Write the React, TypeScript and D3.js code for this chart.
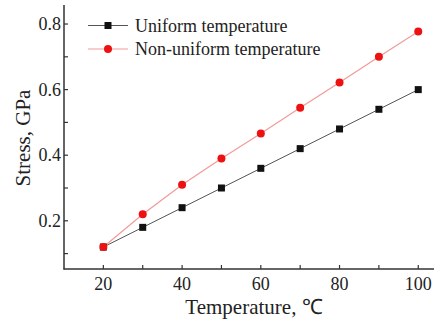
import * as d3 from "d3";

const temps = [20, 30, 40, 50, 60, 70, 80, 90, 100];
const uniform = [0.12, 0.18, 0.24, 0.3, 0.36, 0.42, 0.48, 0.54, 0.6];
const nonUniform = [0.12, 0.22, 0.31, 0.39, 0.466, 0.545, 0.622, 0.7, 0.777];
const xTicks = [20, 30, 40, 50, 60, 70, 80, 90, 100];
const xLabels = [20, 40, 60, 80, 100];
const yTicks = [0.1, 0.2, 0.3, 0.4, 0.5, 0.6, 0.7, 0.8];
const yLabels = [0.2, 0.4, 0.6, 0.8];

const W = 434;
const H = 322;
const font = "'Liberation Serif', 'Times New Roman', serif";

export default function App() {
  const x = d3.scaleLinear().domain([10, 104]).range([64, 434]);
  const y = d3.scaleLinear().domain([0.053, 0.858]).range([269, 5]);

  const line = d3
    .line<number>()
    .x((_, i) => x(temps[i]))
    .y((d) => y(d));

  return (
    <svg
      width={W}
      height={H}
      style={{ position: "absolute", left: 0, top: 0, background: "#fff" }}
    >
      {/* axes */}
      <line x1={64} x2={64} y1={5} y2={269.5} stroke="#333" strokeWidth={1.5} />
      <line x1={63.5} x2={434} y1={269} y2={269} stroke="#333" strokeWidth={1.5} />
      {yTicks.map((t) => (
        <line key={t} x1={64} x2={68} y1={y(t)} y2={y(t)} stroke="#333" strokeWidth={1.2} />
      ))}
      {xTicks.map((t) => (
        <line key={t} x1={x(t)} x2={x(t)} y1={269} y2={265} stroke="#333" strokeWidth={1.2} />
      ))}
      {yLabels.map((t) => (
        <text
          key={t}
          x={61}
          y={y(t) + 6}
          textAnchor="end"
          fontFamily={font}
          fontSize={18}
          fill="#222"
        >
          {t.toFixed(1)}
        </text>
      ))}
      {xLabels.map((t) => (
        <text
          key={t}
          x={x(t)}
          y={290}
          textAnchor="middle"
          fontFamily={font}
          fontSize={18}
          fill="#222"
        >
          {t}
        </text>
      ))}
      <text x={254} y={314} textAnchor="middle" fontFamily={font} fontSize={21} fill="#222">
        Temperature, ℃
      </text>
      <text
        transform={`translate(30,138) rotate(-90)`}
        textAnchor="middle"
        fontFamily={font}
        fontSize={21}
        fill="#222"
      >
        Stress, GPa
      </text>

      {/* series */}
      <path d={line(uniform) ?? ""} fill="none" stroke="#555" strokeWidth={1} />
      <path d={line(nonUniform) ?? ""} fill="none" stroke="#f29a9a" strokeWidth={1.2} />
      {uniform.map((v, i) => (
        <rect key={i} x={x(temps[i]) - 3.5} y={y(v) - 3.5} width={7} height={7} fill="#111" />
      ))}
      {nonUniform.map((v, i) => (
        <circle key={i} cx={x(temps[i])} cy={y(v)} r={4} fill="#ee1111" />
      ))}

      {/* legend */}
      <line x1={88} x2={128} y1={25.5} y2={25.5} stroke="#555" strokeWidth={1} />
      <rect x={104.5} y={22} width={7} height={7} fill="#111" />
      <text x={135} y={32} fontFamily={font} fontSize={18} fill="#222">
        Uniform temperature
      </text>
      <line x1={88} x2={128} y1={49} y2={49} stroke="#f29a9a" strokeWidth={1.2} />
      <circle cx={108} cy={49} r={4} fill="#ee1111" />
      <text x={135} y={55} fontFamily={font} fontSize={18} fill="#222">
        Non-uniform temperature
      </text>
    </svg>
  );
}
